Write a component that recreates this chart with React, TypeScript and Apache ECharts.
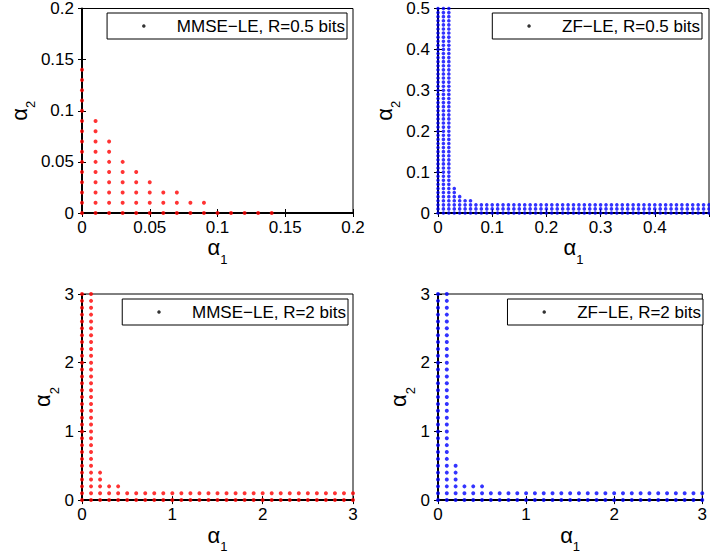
import React, { useEffect, useRef } from "react";
import * as echarts from "echarts";

const FONT = "'Liberation Sans', Arial, Helvetica, sans-serif";

// Panel 1: MMSE-LE, R = 0.5 bits (grid step 0.01); column x and top of the dotted column
const mmse05X = [0, 0.01, 0.02, 0.03, 0.04, 0.05, 0.06, 0.07, 0.08, 0.09, 0.1, 0.11, 0.12, 0.13, 0.14];
const mmse05Top = [0.14, 0.09, 0.07, 0.05, 0.04, 0.03, 0.02, 0.02, 0.01, 0.01, 0, 0, 0, 0, 0];

// Panel 2: ZF-LE, R = 0.5 bits (grid step 0.01)
const zf05X = [
  0, 0.01, 0.02, 0.03, 0.04, 0.05, 0.06, 0.07, 0.08, 0.09, 0.1, 0.11, 0.12, 0.13, 0.14, 0.15, 0.16,
  0.17, 0.18, 0.19, 0.2, 0.21, 0.22, 0.23, 0.24, 0.25, 0.26, 0.27, 0.28, 0.29, 0.3, 0.31, 0.32, 0.33,
  0.34, 0.35, 0.36, 0.37, 0.38, 0.39, 0.4, 0.41, 0.42, 0.43, 0.44, 0.45, 0.46, 0.47, 0.48, 0.49, 0.5,
];
const zf05Top = [
  0.5, 0.5, 0.5, 0.06, 0.04, 0.03, 0.03, 0.02, 0.02, 0.02, 0.02, 0.02, 0.02, 0.02, 0.02, 0.02, 0.02,
  0.02, 0.02, 0.02, 0.02, 0.02, 0.02, 0.02, 0.02, 0.02, 0.02, 0.02, 0.02, 0.02, 0.02, 0.02, 0.02, 0.02,
  0.02, 0.02, 0.02, 0.02, 0.02, 0.02, 0.02, 0.02, 0.02, 0.02, 0.02, 0.02, 0.02, 0.02, 0.02, 0.02, 0.02,
];

// Panel 3: MMSE-LE, R = 2 bits (grid step 0.1)
const mmse2X = [
  0, 0.1, 0.2, 0.3, 0.4, 0.5, 0.6, 0.7, 0.8, 0.9, 1, 1.1, 1.2, 1.3, 1.4, 1.5, 1.6, 1.7, 1.8, 1.9, 2,
  2.1, 2.2, 2.3, 2.4, 2.5, 2.6, 2.7, 2.8, 2.9, 3,
];
const mmse2Top = [
  3, 3, 0.4, 0.2, 0.2, 0.1, 0.1, 0.1, 0.1, 0.1, 0.1, 0.1, 0.1, 0.1, 0.1, 0.1, 0.1, 0.1, 0.1, 0.1, 0.1,
  0.1, 0.1, 0.1, 0.1, 0.1, 0.1, 0.1, 0.1, 0.1, 0.1,
];

// Panel 4: ZF-LE, R = 2 bits (grid step 0.1)
const zf2X = [
  0, 0.1, 0.2, 0.3, 0.4, 0.5, 0.6, 0.7, 0.8, 0.9, 1, 1.1, 1.2, 1.3, 1.4, 1.5, 1.6, 1.7, 1.8, 1.9, 2,
  2.1, 2.2, 2.3, 2.4, 2.5, 2.6, 2.7, 2.8, 2.9, 3,
];
const zf2Top = [
  3, 3, 0.5, 0.2, 0.2, 0.2, 0.1, 0.1, 0.1, 0.1, 0.1, 0.1, 0.1, 0.1, 0.1, 0.1, 0.1, 0.1, 0.1, 0.1, 0.1,
  0.1, 0.1, 0.1, 0.1, 0.1, 0.1, 0.1, 0.1, 0.1, 0.1,
];

const seriesNames = [
  "MMSE\u2212LE, R=0.5 bits",
  "ZF\u2212LE, R=0.5 bits",
  "MMSE\u2212LE, R=2 bits",
  "ZF\u2212LE, R=2 bits",
];

function toPoints(xs: number[], tops: number[], step: number): number[][] {
  const pts: number[][] = [];
  xs.forEach((x, i) => {
    const n = Math.round(tops[i] / step);
    for (let k = 0; k <= n; k++) pts.push([x, +(k * step).toFixed(4)]);
  });
  return pts;
}

const panels = [
  {
    name: seriesNames[0], xs: mmse05X, tops: mmse05Top, step: 0.01, color: "#ff0000",
    max: 0.2, interval: 0.05, grid: { left: 82, top: 7, width: 271, height: 206 },
    yGap: 43, xGap: 12, legendRight: 363, legendTop: 13, showMaxX: true, size: 4,
  },
  {
    name: seriesNames[1], xs: zf05X, tops: zf05Top, step: 0.01, color: "#0000ff",
    max: 0.5, interval: 0.1, grid: { left: 438, top: 7, width: 271, height: 206 },
    yGap: 38, xGap: 12, legendRight: 8, legendTop: 13, showMaxX: false, size: 3.6,
  },
  {
    name: seriesNames[2], xs: mmse2X, tops: mmse2Top, step: 0.1, color: "#ff0000",
    max: 3, interval: 1, grid: { left: 82, top: 294, width: 271, height: 207 },
    yGap: 22, xGap: 13, legendRight: 362, legendTop: 299, showMaxX: true, size: 4,
  },
  {
    name: seriesNames[3], xs: zf2X, tops: zf2Top, step: 0.1, color: "#0000ff",
    max: 3, interval: 1, grid: { left: 438, top: 294, width: 271, height: 207 },
    yGap: 24, xGap: 13, legendRight: 7, legendTop: 299, showMaxX: true, size: 4,
  },
];

function richName(sub: string) {
  return {
    name: `{a|\u03b1}{s|${sub}}`,
    nameTextStyle: {
      color: "#000",
      fontFamily: FONT,
      rich: {
        a: { fontSize: 22, lineHeight: 24, verticalAlign: "top", fontFamily: FONT, color: "#000" },
        s: {
          fontSize: 13, lineHeight: 14, verticalAlign: "top", padding: [16, 0, 0, 0],
          fontFamily: FONT, color: "#000",
        },
      },
    },
  };
}

export default function App() {
  const ref = useRef<HTMLDivElement>(null);

  useEffect(() => {
    if (!ref.current) return;
    const chart = echarts.init(ref.current, undefined, { renderer: "svg" });

    const grids: any[] = [];
    const xAxes: any[] = [];
    const yAxes: any[] = [];
    const mirrorX: any[] = [];
    const mirrorY: any[] = [];
    const series: any[] = [];
    const legends: any[] = [];

    const labelStyle = { fontFamily: FONT, fontSize: 17, color: "#000" };

    panels.forEach((p, i) => {
      grids.push({ ...p.grid, show: true, borderColor: "#000", borderWidth: 1, backgroundColor: "#fff" });
      xAxes.push({
        type: "value", gridIndex: i, min: 0, max: p.max, interval: p.interval, position: "bottom",
        ...richName("1"), nameLocation: "middle", nameGap: p.xGap,
        axisLine: { show: true, onZero: false, lineStyle: { color: "#000", width: 2 } },
        axisTick: { show: true, inside: true, length: 4, lineStyle: { color: "#000" } },
        axisLabel: { ...labelStyle, margin: 6, showMaxLabel: p.showMaxX, showMinLabel: true },
        splitLine: { show: false },
      });
      yAxes.push({
        type: "value", gridIndex: i, min: 0, max: p.max, interval: p.interval, position: "left",
        ...richName("2"), nameLocation: "middle", nameGap: p.yGap, nameRotate: 90,
        axisLine: { show: true, onZero: false, lineStyle: { color: "#000", width: 2 } },
        axisTick: { show: true, inside: true, length: 4, lineStyle: { color: "#000" } },
        axisLabel: { ...labelStyle, margin: 8, showMaxLabel: true, showMinLabel: true },
        splitLine: { show: false },
      });
      mirrorX.push({
        type: "value", gridIndex: i, min: 0, max: p.max, interval: p.interval, position: "top",
        axisLine: { show: false },
        axisTick: { show: true, inside: true, length: 4, lineStyle: { color: "#000" } },
        axisLabel: { show: false }, splitLine: { show: false },
      });
      mirrorY.push({
        type: "value", gridIndex: i, min: 0, max: p.max, interval: p.interval, position: "right",
        axisLine: { show: false },
        axisTick: { show: true, inside: true, length: 4, lineStyle: { color: "#000" } },
        axisLabel: { show: false }, splitLine: { show: false },
      });
      series.push({
        type: "scatter", name: p.name, xAxisIndex: i, yAxisIndex: i,
        symbol: "circle", symbolSize: p.size, clip: false,
        itemStyle: { color: p.color }, z: 5,
        data: toPoints(p.xs, p.tops, p.step),
      });
      legends.push({
        data: [p.name], right: p.legendRight, top: p.legendTop, orient: "horizontal",
        padding: [4, 2, 4, 35], itemWidth: 56, itemHeight: 3.5, icon: "circle",
        itemStyle: { color: "#000", borderWidth: 0 },
        borderColor: "#000", borderWidth: 1, backgroundColor: "#fff", borderRadius: 0,
        textStyle: { fontFamily: FONT, fontSize: 17, color: "#000", lineHeight: 18, padding: 0 },
        selectedMode: false, z: 10,
      });
    });

    chart.setOption({
      animation: false,
      backgroundColor: "#fff",
      textStyle: { fontFamily: FONT },
      grid: grids,
      xAxis: [...xAxes, ...mirrorX],
      yAxis: [...yAxes, ...mirrorY],
      legend: legends,
      series,
    });

    return () => chart.dispose();
  }, []);

  return (
    <div
      ref={ref}
      style={{ position: "absolute", left: 0, top: 0, width: 710, height: 554 }}
    />
  );
}
